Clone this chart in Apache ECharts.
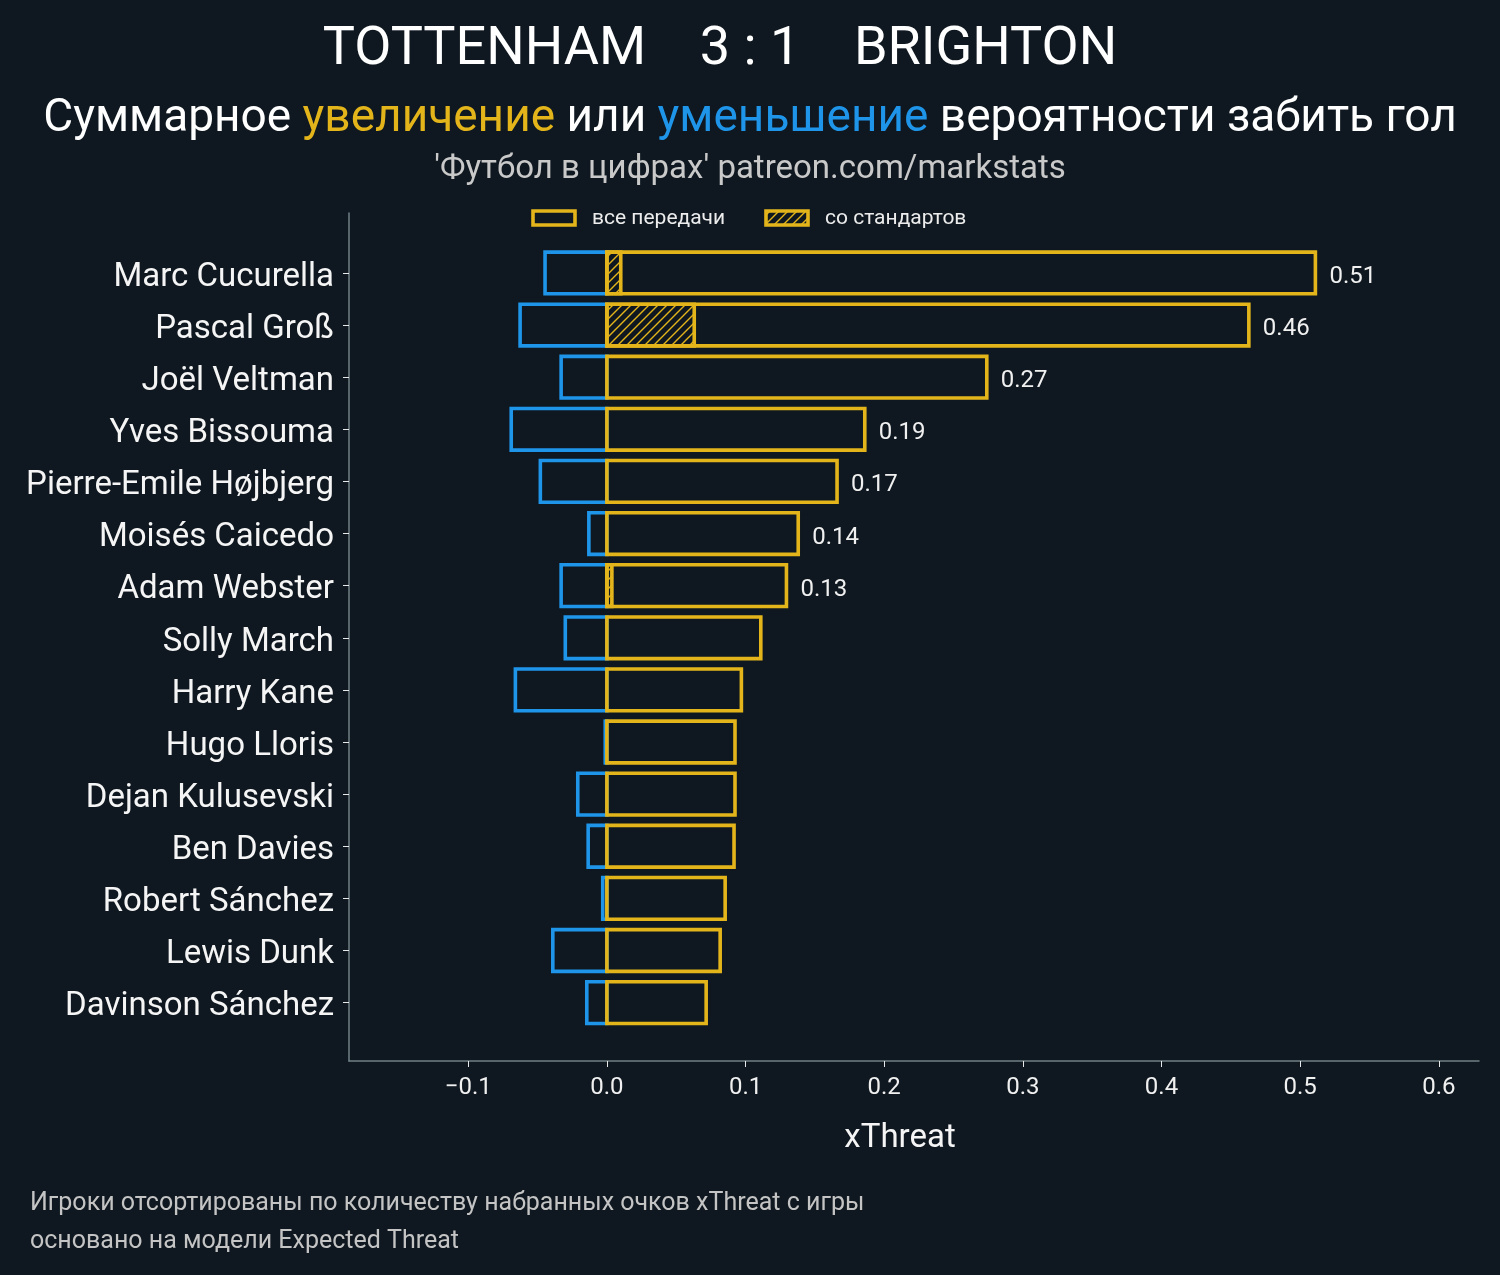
<!DOCTYPE html>
<html><head><meta charset="utf-8">
<script src="https://cdn.jsdelivr.net/npm/echarts@6/dist/echarts.min.js"></script>
<style>html,body{margin:0;padding:0;background:#0f1820;} #c{width:1500px;height:1275px;}</style>
</head><body><div id="c"></div>
<script>
const players = ['Marc Cucurella','Pascal Groß','Joël Veltman','Yves Bissouma','Pierre-Emile Højbjerg','Moisés Caicedo','Adam Webster','Solly March','Harry Kane','Hugo Lloris','Dejan Kulusevski','Ben Davies','Robert Sánchez','Lewis Dunk','Davinson Sánchez'];
const positiveValues = [0.511, 0.463, 0.274, 0.186, 0.166, 0.138, 0.1295, 0.111, 0.097, 0.0924, 0.0924, 0.0917, 0.0853, 0.0817, 0.0716];
const negativeValues = [-0.0446, -0.0626, -0.033, -0.069, -0.048, -0.013, -0.033, -0.030, -0.066, -0.0012, -0.021, -0.0135, -0.003, -0.039, -0.0145];
const setPieceValues = [0.010, 0.063, 0, 0, 0, 0, 0.0036, 0, 0, 0, 0, 0, 0, 0, 0];
const labelledCount = 7;
const xTicks = [-0.1, 0, 0.1, 0.2, 0.3, 0.4, 0.5, 0.6];

const YELLOW = '#e4b51b';
const BLUE = '#1f95ea';
const BG = '#0f1820';
const AXIS = '#6f8084';
const LW = 3.6;

function hatchCanvas() {
  const s = 9;
  const cv = document.createElement('canvas');
  cv.width = s; cv.height = s;
  const ctx = cv.getContext('2d');
  ctx.strokeStyle = YELLOW;
  ctx.lineWidth = 1.4;
  ctx.beginPath();
  ctx.moveTo(-1, s + 1); ctx.lineTo(s + 1, -1);
  ctx.moveTo(-2, 2); ctx.lineTo(2, -2);
  ctx.moveTo(s - 2, s + 2); ctx.lineTo(s + 2, s - 2);
  ctx.stroke();
  return cv;
}
const hatch = hatchCanvas();
const hatchPattern = { image: hatch, repeat: 'repeat' };

const data = players.map((p, i) => [i, negativeValues[i], positiveValues[i], setPieceValues[i]]);

const chart = echarts.init(document.getElementById('c'), null, { renderer: 'canvas' });

function renderItem(params, api) {
  const i = api.value(0);
  const neg = api.value(1), pos = api.value(2), sp = api.value(3);
  const h = api.size([0, 0.8])[1];
  const p0 = api.coord([0, i]);
  const pn = api.coord([neg, i]);
  const pp = api.coord([pos, i]);
  const ps = api.coord([sp, i]);
  const y = p0[1] - h / 2;
  const children = [];
  if (neg < 0) {
    children.push({ type: 'rect', shape: { x: pn[0], y: y, width: p0[0] - pn[0], height: h },
      style: { fill: 'none', stroke: BLUE, lineWidth: LW } });
  }
  children.push({ type: 'rect', shape: { x: p0[0], y: y, width: pp[0] - p0[0], height: h },
    style: { fill: 'none', stroke: YELLOW, lineWidth: LW } });
  if (sp > 0) {
    children.push({ type: 'rect', shape: { x: p0[0], y: y, width: ps[0] - p0[0], height: h },
      style: { fill: hatchPattern, stroke: YELLOW, lineWidth: LW } });
  }
  if (i < labelledCount) {
    children.push({ type: 'text', x: pp[0] + 14, y: p0[1] + 4,
      style: { text: pos.toFixed(2), fill: '#f0f0f0', font: '24px Roboto', align: 'left', verticalAlign: 'middle' } });
  }
  return { type: 'group', children: children };
}

const option = {
  backgroundColor: BG,
  animation: false,
  grid: { left: 349, right: 21, top: 213, bottom: 214, containLabel: false },
  xAxis: {
    type: 'value', min: -0.186, max: 0.629,
    axisLine: { show: true, onZero: false, lineStyle: { color: AXIS, width: 1.5 } },
    axisTick: { show: true, customValues: xTicks, length: 6, lineStyle: { color: '#e8e8e8', width: 1 } },
    axisLabel: { customValues: xTicks, color: '#f0f0f0', fontSize: 24, fontFamily: 'Roboto', margin: 15,
      formatter: v => (v < 0 ? '\u2212' : '') + Math.abs(v).toFixed(1) },
    splitLine: { show: false }
  },
  yAxis: {
    type: 'value', inverse: true, min: -1.15, max: 15.12,
    axisLine: { show: true, onZero: false, lineStyle: { color: AXIS, width: 1.5 } },
    axisTick: { show: true, customValues: players.map((p, i) => i), length: 6, lineStyle: { color: '#e8e8e8', width: 1 } },
    axisLabel: { customValues: players.map((p, i) => i), color: '#f5f5f5', fontSize: 33, fontFamily: 'Roboto', margin: 15,
      formatter: v => '{n|' + players[Math.round(v)] + '}',
      rich: { n: { color: '#f5f5f5', fontSize: 33, fontFamily: 'Roboto', padding: [9, 0, 0, 0] } } },
    splitLine: { show: false }
  },
  series: [{
    type: 'custom', renderItem: renderItem, data: data,
    encode: { x: [1, 2, 3], y: 0 }, clip: false
  }],
  graphic: [
    { type: 'text', x: 720, y: 50, style: { text: 'TOTTENHAM    3 : 1    BRIGHTON', fill: '#ffffff', font: '54px Roboto', align: 'center', verticalAlign: 'middle' } },
    { type: 'text', x: 750, y: 119, style: {
      text: '{w|Суммарное }{y|увеличение}{w| или }{b|уменьшение}{w| вероятности забить гол}',
      align: 'center', verticalAlign: 'middle',
      rich: {
        w: { fill: '#ffffff', font: '46px Roboto', fontSize: 46, fontFamily: 'Roboto', color: '#ffffff' },
        y: { fill: YELLOW, font: '46px Roboto', fontSize: 46, fontFamily: 'Roboto', color: YELLOW },
        b: { fill: BLUE, font: '46px Roboto', fontSize: 46, fontFamily: 'Roboto', color: BLUE }
      } } },
    { type: 'text', x: 750, y: 170, style: { text: "'Футбол в цифрах' patreon.com/markstats", fill: '#c9c9c9', font: '33px Roboto', align: 'center', verticalAlign: 'middle' } },
    { type: 'rect', shape: { x: 533, y: 211, width: 42, height: 14 }, style: { fill: 'none', stroke: YELLOW, lineWidth: LW } },
    { type: 'text', x: 592, y: 219, style: { text: 'все передачи', fill: '#ececec', font: '21px Roboto', align: 'left', verticalAlign: 'middle' } },
    { type: 'rect', shape: { x: 766, y: 211, width: 42, height: 14 }, style: { fill: hatchPattern, stroke: YELLOW, lineWidth: LW } },
    { type: 'text', x: 825, y: 219, style: { text: 'со стандартов', fill: '#ececec', font: '21px Roboto', align: 'left', verticalAlign: 'middle' } },
    { type: 'text', x: 900, y: 1139, style: { text: 'xThreat', fill: '#f5f5f5', font: '33px Roboto', align: 'center', verticalAlign: 'middle' } },
    { type: 'text', x: 30, y: 1204, style: { text: 'Игроки отсортированы по количеству набранных очков xThreat с игры', fill: '#c4c4c4', font: '25px Roboto', align: 'left', verticalAlign: 'middle' } },
    { type: 'text', x: 30, y: 1242, style: { text: 'основано на модели Expected Threat', fill: '#c4c4c4', font: '25px Roboto', align: 'left', verticalAlign: 'middle' } }
  ]
};
chart.setOption(option);
</script>
</body></html>
